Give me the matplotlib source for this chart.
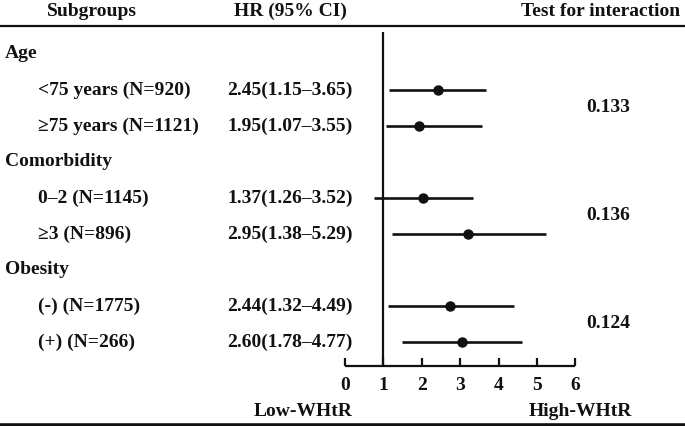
import matplotlib
matplotlib.use("Agg")
import matplotlib.pyplot as plt

# ---------------- data ----------------
groups = ["Age", "Comorbidity", "Obesity"]
subgroups = ["<75 years (N=920)", "≥75 years (N=1121)",
             "0–2 (N=1145)", "≥3 (N=896)",
             "(-) (N=1775)", "(+) (N=266)"]
hr_text = ["2.45(1.15–3.65)", "1.95(1.07–3.55)",
           "1.37(1.26–3.52)", "2.95(1.38–5.29)",
           "2.44(1.32–4.49)", "2.60(1.78–4.77)"]
# plotted estimates as drawn in the figure
hr_point = [2.42, 1.93, 2.03, 3.20, 2.74, 3.04]
ci_low = [1.15, 1.06, 0.76, 1.22, 1.12, 1.49]
ci_high = [3.68, 3.57, 3.34, 5.22, 4.39, 4.62]
p_interaction = ["0.133", "0.136", "0.124"]
xticks = [0, 1, 2, 3, 4, 5, 6]

# row layout: group header then its two subgroups
group_rows = [0, 3, 6]
sub_rows = [1, 2, 4, 5, 7, 8]

W, H = 685, 426
fig = plt.figure(figsize=(W / 100, H / 100), dpi=100)
ax = fig.add_axes([0, 0, 1, 1])
unit = (575.5 - 345) / 6.0
x0px = 345
ax.set_xlim(-x0px / unit, (W - x0px) / unit)
row_h, row0 = 36.0, 54.0
ax.set_ylim((H - row0) / row_h, (0 - row0) / row_h)
ax.axis("off")

plt.rcParams["font.family"] = ["Liberation Serif", "DejaVu Serif"]
fs = 14
kw = dict(fontsize=fs, fontweight="bold", color="#111111",
          family=["Liberation Serif", "DejaVu Serif"])

def px(x):
    return x / W

def ky(p):
    return (p - row0) / row_h

tr = ax.get_yaxis_transform()  # x in axes frac, y in data
# header
ax.text(px(92), ky(11), "Subgroups", ha="center", va="center", transform=tr, **kw)
ax.text(px(290), ky(11), "HR (95% CI)", ha="center", va="center", transform=tr, **kw)
ax.text(px(680), ky(11), "Test for interaction", ha="right", va="center", transform=tr, **kw)
ax.plot([0, 1], [ky(26), ky(26)], transform=tr, color="#111111", lw=1.6, clip_on=False)
ax.plot([0, 1], [ky(424.5), ky(424.5)], transform=tr, color="#111111", lw=2.6, clip_on=False)

for g, r in zip(groups, group_rows):
    ax.text(px(5), r, g, ha="left", va="center", transform=tr, **kw)
for s, t, r in zip(subgroups, hr_text, sub_rows):
    ax.text(px(38), r, s, ha="left", va="center", transform=tr, **kw)
    ax.text(px(227), r, t, ha="left", va="center", transform=tr, **kw)
for i, p in enumerate(p_interaction):
    r = (sub_rows[2 * i] + sub_rows[2 * i + 1]) / 2
    ax.text(px(608), r, p, ha="center", va="center", transform=tr, **kw)

# reference line
axis_y = ky(366)
ax.vlines(1, ky(32), axis_y, color="#111111", lw=1.6)

# CIs and points
ax.hlines(sub_rows, ci_low, ci_high, color="#111111", lw=1.9)
ax.plot(hr_point, sub_rows, "o", color="#111111", ms=6.5)

# x axis
ax.hlines(axis_y, xticks[0], xticks[-1], color="#111111", lw=1.6)
ax.vlines(xticks, axis_y, axis_y - 8 / row_h, color="#111111", lw=1.6)
for t in xticks:
    ax.text(t, ky(386), str(t), ha="center", va="center", **kw)

ax.text(px(303), ky(411), "Low-WHtR", ha="center", va="center", transform=tr, **kw)
ax.text(px(580), ky(411), "High-WHtR", ha="center", va="center", transform=tr, **kw)

fig.savefig("out.png", dpi=100)
